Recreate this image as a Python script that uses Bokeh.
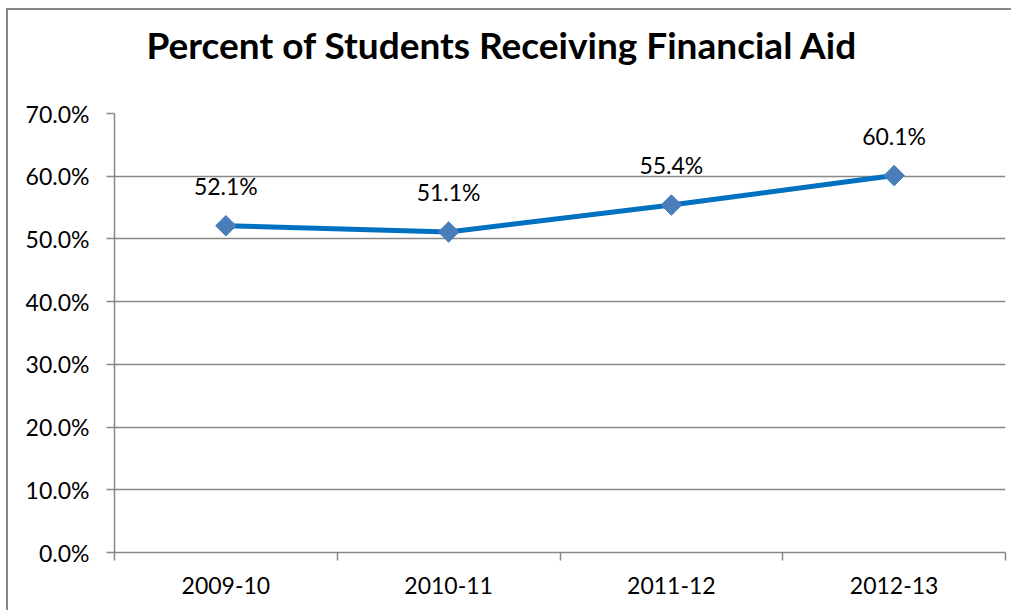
import math
from bokeh.plotting import figure
from bokeh.models import (ColumnDataSource, FixedTicker, PrintfTickFormatter, LabelSet, Title, Range1d)
from bokeh.core.properties import value
from bokeh.embed import file_html
from bokeh.resources import INLINE

categories = ["2009-10", "2010-11", "2011-12", "2012-13"]
values = [52.1, 51.1, 55.4, 60.1]
y_ticks = [0, 10, 20, 30, 40, 50, 60, 70]
title_text = "Percent of Students Receiving Financial Aid"

FONT = "Lato"
GRAY = "#878787"
W, H = 1005, 602
B_LEFT, B_TOP, B_RIGHT, B_BOTTOM = 106, 103, 8, 60

xs = [i + 0.5 for i in range(len(categories))]
src = ColumnDataSource(dict(x=xs, y=values, lbl=["%.1f%%" % v for v in values]))

p = figure(width=W, height=H, output_backend="svg", toolbar_location=None,
           x_range=Range1d(0, len(categories)), y_range=Range1d(0, 70),
           min_border_left=B_LEFT, min_border_top=B_TOP, min_border_right=B_RIGHT,
           min_border_bottom=B_BOTTOM)
p.styles = {"margin-left": "6px", "margin-top": "8px",
            "border-left": "2px solid " + GRAY, "border-top": "2px solid " + GRAY}
p.outline_line_color = None
p.background_fill_color = "white"
p.border_fill_color = "white"

# spacer between frame and title (stacked nearer the frame than the main title)
spacer = Title(text=" ", text_font_size="10px", standoff=34)
p.add_layout(spacer, "above")

p.title.text = title_text
p.title.text_font = FONT
p.title.text_font_style = "bold"
p.title.text_font_size = "37px"
p.title.align = "left"
p.title.offset = 32
p.title.standoff = 0
p.title.text_color = "black"

# grid
p.xgrid.visible = False
p.ygrid.ticker = FixedTicker(ticks=y_ticks)
p.ygrid.grid_line_color = GRAY
p.ygrid.grid_line_width = 1.5

# y axis
p.yaxis.ticker = FixedTicker(ticks=y_ticks)
p.yaxis.formatter = PrintfTickFormatter(format="%.1f%%")
p.yaxis.axis_line_color = GRAY
p.yaxis.axis_line_width = 1.5
p.yaxis.major_tick_line_color = GRAY
p.yaxis.major_tick_line_width = 1.5
p.yaxis.major_tick_out = 8
p.yaxis.major_tick_in = 0
p.yaxis.minor_tick_line_color = None
p.yaxis.major_label_standoff = 17
p.yaxis.major_label_text_font = FONT
p.yaxis.major_label_text_font_size = "23px"
p.yaxis.major_label_text_color = "black"

# x axis
p.xaxis.ticker = FixedTicker(ticks=xs, minor_ticks=list(range(len(categories) + 1)))
p.xaxis.major_label_overrides = {x: c for x, c in zip(xs, categories)}
p.xaxis.axis_line_color = GRAY
p.xaxis.axis_line_width = 1.5
p.xaxis.major_tick_line_color = None
p.xaxis.major_tick_out = 8
p.xaxis.major_tick_in = 0
p.xaxis.minor_tick_line_color = GRAY
p.xaxis.minor_tick_line_width = 1.5
p.xaxis.minor_tick_out = 8
p.xaxis.minor_tick_in = 0
p.xaxis.major_label_standoff = 16
p.xaxis.major_label_text_font = FONT
p.xaxis.major_label_text_font_size = "23px"
p.xaxis.major_label_text_color = "black"

p.line("x", "y", source=src, line_color="#0070C0", line_width=5)
p.scatter("x", "y", source=src, marker="square", size=14.5, angle=math.pi / 4,
          fill_color="#4A7EBB", line_color="#4A7EBB")

labels = LabelSet(x="x", y="y", text="lbl", source=src, y_offset=26, text_align="center",
                  text_baseline="bottom", text_font=value(FONT), text_font_size="23px",
                  text_color="black")
p.add_layout(labels)

open("out.html", "w").write(file_html(p, INLINE))
